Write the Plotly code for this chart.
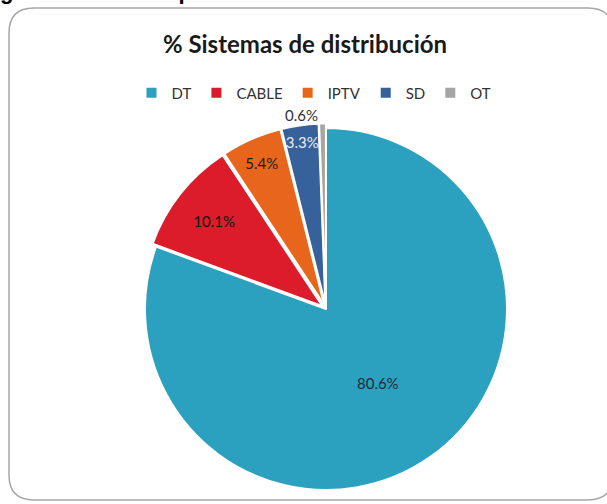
import plotly.graph_objects as go

# datos del gráfico
sistemas = ['DT', 'CABLE', 'IPTV', 'SD', 'OT']
porcentajes = [80.6, 10.1, 5.4, 3.3, 0.6]
colores = ['#2CA1BF', '#DC1C2A', '#E8661C', '#36619B', '#A5A5A5']
etiquetas = ['80.6%', '10.1%', '5.4%', '3.3%', '0.6%']

W, H = 607, 504

def px_x(p):
    return p / W

def px_y(p):
    return 1 - p / H

# centro del pastel (326, 309), radio ~181px; las porciones pequeñas algo separadas
pull = [0, 0.025, 0.025, 0.025, 0.025]
r = 181 * 1.025
cx, cy = 326, 309

fig = go.Figure()
fig.add_trace(go.Pie(
    labels=sistemas,
    values=porcentajes,
    text=etiquetas,
    textinfo='text',
    sort=False,
    direction='clockwise',
    rotation=0,
    pull=pull,
    marker=dict(colors=colores, line=dict(color='white', width=2)),
    textposition=['inside', 'inside', 'inside', 'inside', 'outside'],
    insidetextorientation='horizontal',
    insidetextfont=dict(family='Lato', size=15,
                        color=['#1E2B3A', '#111111', '#2A1A10', '#E6ECF4', '#333333']),
    outsidetextfont=dict(family='Lato', size=15, color='#333333'),
    hoverinfo='label+percent',
    domain=dict(x=[px_x(cx - r), px_x(cx + r)], y=[px_y(cy + r), px_y(cy - r)]),
))

# marco redondeado
x0, x1 = px_x(9), px_x(613)
y0, y1 = px_y(8), px_y(500)
rx, ry = 25 / W, 25 / H
path = (f'M {x0 + rx},{y0} L {x1 - rx},{y0} Q {x1},{y0} {x1},{y0 - ry} '
        f'L {x1},{y1 + ry} Q {x1},{y1} {x1 - rx},{y1} '
        f'L {x0 + rx},{y1} Q {x0},{y1} {x0},{y1 + ry} '
        f'L {x0},{y0 - ry} Q {x0},{y0} {x0 + rx},{y0} Z')
fig.add_shape(type='path', path=path, xref='paper', yref='paper',
              line=dict(color='#A6A6A6', width=1.5), layer='below')

# texto de la figura cortado arriba (sólo se ven los trazos inferiores)
fig.add_annotation(
    text='<b>gura 3. Cuota de pantalla de los distintos sistemas de</b>',
    x=px_x(-2), y=px_y(6), xref='paper', yref='paper',
    xanchor='left', yanchor='bottom', showarrow=False,
    font=dict(family='Liberation Sans', size=22, color='black'),
)

fig.update_layout(
    width=W, height=H,
    margin=dict(l=0, r=0, t=0, b=0),
    paper_bgcolor='white',
    title=dict(text='<b>% Sistemas de distribución</b>', x=px_x(305), y=px_y(45),
               xanchor='center', yanchor='middle',
               font=dict(family='Lato', size=24, color='#1a1a1a')),
    legend=dict(orientation='h', x=px_x(314), y=px_y(93), xanchor='center',
                yanchor='middle', font=dict(family='Lato', size=15, color='#333333'),
                itemwidth=30, traceorder='normal'),
    uniformtext=dict(minsize=15, mode='show'),
    font=dict(family='Lato'),
)

fig.write_html('out.html', config={'displayModeBar': False},
               post_script="document.body.style.margin='0';")
